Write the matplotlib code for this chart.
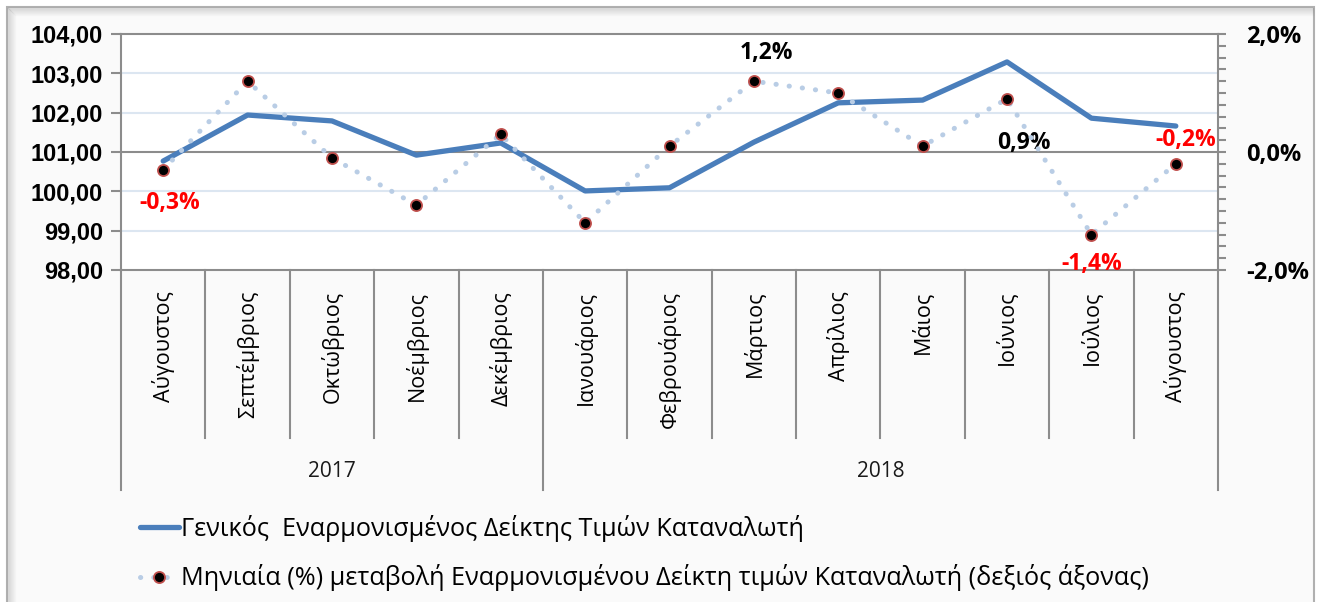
import matplotlib.pyplot as plt
from matplotlib.patches import Rectangle
from matplotlib.lines import Line2D
import numpy as np

months = ['Αύγουστος', 'Σεπτέμβριος', 'Οκτώβριος', 'Νοέμβριος', 'Δεκέμβριος',
          'Ιανουάριος', 'Φεβρουάριος', 'Μάρτιος', 'Απρίλιος', 'Μάιος',
          'Ιούνιος', 'Ιούλιος', 'Αύγουστος']
years = ['2017', '2018']
months_per_year = [5, 8]

# index level (left axis)
hicp_index = [100.77, 101.94, 101.79, 100.92, 101.23, 100.01, 100.09,
              101.25, 102.25, 102.32, 103.29, 101.86, 101.66]
# monthly % change (right axis)
monthly_change = [-0.3, 1.2, -0.1, -0.9, 0.3, -1.2, 0.1,
                  1.2, 1.0, 0.1, 0.9, -1.4, -0.2]

left_ticks = [98, 99, 100, 101, 102, 103, 104]
left_ticklabels = ['98,00', '99,00', '100,00', '101,00', '102,00', '103,00', '104,00']
right_ticks = [-2, 0, 2]
right_ticklabels = ['-2,0%', '0,0%', '2,0%']

label_line = 'Γενικός  Εναρμονισμένος Δείκτης Τιμών Καταναλωτή'
label_dots = 'Μηνιαία (%) μεταβολή Εναρμονισμένου Δείκτη τιμών Καταναλωτή (δεξιός άξονας)'

# which points get a data label: index -> (text, colour)
point_labels = {0: ('-0,3%', 'red'), 7: ('1,2%', 'black'), 10: ('0,9%', 'black'),
                11: ('-1,4%', 'red'), 12: ('-0,2%', 'red')}

W, H = 1321, 602
fig = plt.figure(figsize=(W / 100, H / 100), dpi=100)
fig.patch.set_facecolor('white')

# outer chart frame with a soft inner shadow
fig.patches.append(Rectangle((7 / W, -0.01), (W - 14) / W, (H - 7) / H + 0.01,
                             transform=fig.transFigure, facecolor='#fafafa',
                             edgecolor='#b0b0b0', lw=1.5, zorder=-10))
for k in range(8):
    a = 0.22 * (1 - k / 8)
    fig.lines.append(Line2D([(8 + k) / W, (8 + k) / W], [0, 1 - (8 + k) / H],
                            transform=fig.transFigure, color='#808080', alpha=a,
                            lw=1, zorder=-9))
    fig.lines.append(Line2D([(8 + k) / W, (W - 8) / W], [1 - (8 + k) / H, 1 - (8 + k) / H],
                            transform=fig.transFigure, color='#808080', alpha=a,
                            lw=1, zorder=-9))

x0, x1, ytop, ybot = 121, 1218, 34, 270
ax = fig.add_axes([x0 / W, 1 - ybot / H, (x1 - x0) / W, (ybot - ytop) / H])
ax.set_facecolor('white')
x = np.arange(len(months))
ax.set_xlim(-0.5, len(months) - 0.5)
ax.set_ylim(98, 104)

grey = '#8c8c8c'
for v in left_ticks[1:-1]:
    if v == 101:
        ax.axhline(v, color=grey, lw=1.5, zorder=1)
    else:
        ax.axhline(v, color='#dce6f1', lw=1.5, zorder=1)

ax.plot(x, hicp_index, color='#4a7ebb', lw=3.8, solid_capstyle='round', zorder=3,
        label=label_line)

for s in ax.spines.values():
    s.set_color(grey)
    s.set_linewidth(1.5)

ax.set_yticks(left_ticks, left_ticklabels)
ax.tick_params(axis='y', direction='out', length=7, width=1.5, color=grey, pad=6)
for t in ax.get_yticklabels():
    t.set_fontfamily('Liberation Sans')
    t.set_fontweight('bold')
    t.set_fontsize(17)

ax.set_xticks(x, months)
ax.tick_params(axis='x', length=0, pad=15)
for t in ax.get_xticklabels():
    t.set_rotation(90)
    t.set_fontfamily('Open Sans')
    t.set_fontsize(15.5)
    t.set_va('top')
    t.set_ha('center')

# category and year separator lines below the axis
tr = ax.get_xaxis_transform()
ph = ybot - ytop
year_edges = np.cumsum([0] + months_per_year) - 0.5
for k in range(len(months) + 1):
    xe = k - 0.5
    depth = (490 - ybot) / ph if xe in year_edges else (438 - ybot) / ph
    ax.add_line(Line2D([xe, xe], [0, -depth], transform=tr, color=grey, lw=1.5,
                       clip_on=False))
for i, yr in enumerate(years):
    xc = (year_edges[i] + year_edges[i + 1]) / 2
    ax.text(xc, -(472 - ybot) / ph, yr, transform=tr, ha='center', va='center',
            fontsize=15, fontfamily='Open Sans', color='#1a1a1a')

ax2 = ax.twinx()
ax2.set_ylim(-2, 2)
ax2.plot(x, monthly_change, color='#b9cde5', lw=3.6, ls=(0, (0.05, 2.6)),
         dash_capstyle='round', marker='o', mfc='black', mec='#c0504d',
         ms=8, mew=1.3, zorder=4, label=label_dots)
ax2.set_yticks(right_ticks, right_ticklabels)
ax2.set_yticks(np.arange(-2, 2.01, 0.2), minor=True)
ax2.tick_params(axis='y', which='both', direction='out', length=6, width=1.5,
                color=grey, pad=14)
for t in ax2.get_yticklabels():
    t.set_fontfamily('Open Sans')
    t.set_fontweight('bold')
    t.set_fontsize(17)
for s in ax2.spines.values():
    s.set_visible(False)

offsets = {0: (5, -24), 7: (9, 20), 10: (12, -32), 11: (0, -21), 12: (7, 17)}
for i, (txt, col) in point_labels.items():
    ax2.annotate(txt, (x[i], monthly_change[i]), xytext=offsets[i],
                 textcoords='offset points', ha='center', va='center',
                 color=col, fontsize=16.5, fontweight='bold', fontfamily='Open Sans')

h1, l1 = ax.get_legend_handles_labels()
h2, l2 = ax2.get_legend_handles_labels()
fig.legend(h1 + h2, l1 + l2, loc='upper left', bbox_to_anchor=(127 / W, 1 - 502 / H),
           frameon=False, borderpad=0, handlelength=1.55, handletextpad=0.1,
           labelspacing=0.9, prop={'family': 'Open Sans', 'size': 18.2})

fig.savefig('out.png', dpi=100, facecolor=fig.get_facecolor())
